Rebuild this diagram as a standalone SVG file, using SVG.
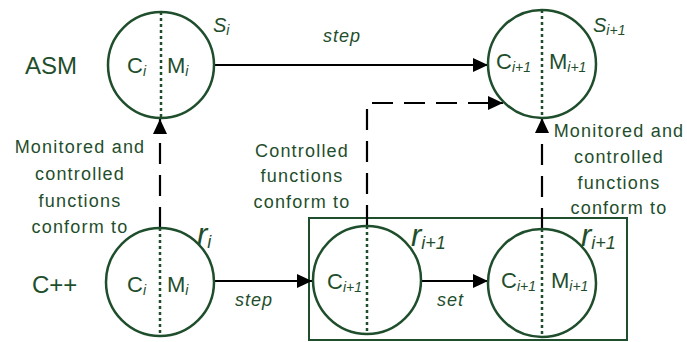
<svg xmlns="http://www.w3.org/2000/svg" width="687" height="342" viewBox="0 0 687 342">
<style>
.bg{fill:#ffffff}
.node{fill:none;stroke:#1f4e2c;stroke-width:2.5}
.div{stroke:#1f4e2c;stroke-width:2.5;stroke-dasharray:3 3;fill:none}
.box{fill:none;stroke:#1f4e2c;stroke-width:2}
.lbl{font-family:"Liberation Sans",Arial,sans-serif;fill:#1f4e2c}
.big{font-size:24px}
.cm{font-size:22px}
.sub{font-size:14px;font-style:italic}
.it{font-style:italic}
.rl{font-size:31px;font-style:italic}
.note{font-size:18px;letter-spacing:1.2px;text-anchor:middle}
.edge{fill:none;stroke:#000;stroke-width:2.2}
.dash{stroke-dasharray:21 11}
</style>
<defs>
<marker id="ah" markerUnits="userSpaceOnUse" markerWidth="16" markerHeight="14" refX="15" refY="7" orient="auto">
<path d="M0,0 L15,7 L0,14 z" fill="#000"/>
</marker>
</defs>
<rect class="bg" x="0" y="0" width="687" height="342"/>

<text class="lbl big" x="25" y="74">ASM</text>
<text class="lbl big" x="32" y="293">C++</text>

<g id="pipeline-box">
<rect class="box" x="309" y="218" width="318" height="122"/>
</g>

<g id="connectors">
<line class="edge" x1="214" y1="65" x2="488" y2="65" marker-end="url(#ah)"/>
<line class="edge" x1="214" y1="281" x2="312" y2="281" marker-end="url(#ah)"/>
<line class="edge" x1="422" y1="281" x2="488" y2="281" marker-end="url(#ah)"/>
<line class="edge dash" x1="160" y1="228" x2="160" y2="119" marker-end="url(#ah)"/>
<path class="edge dash" d="M367,226 V103 H503" marker-end="url(#ah)"/>
<line class="edge dash" x1="542" y1="229" x2="542" y2="118" marker-end="url(#ah)"/>
<text class="lbl it" x="323" y="42" font-size="18" letter-spacing="1">step</text>
<text class="lbl it" x="235" y="306" font-size="18" letter-spacing="1">step</text>
<text class="lbl it" x="437" y="306" font-size="18" letter-spacing="1">set</text>
<text class="lbl note" x="80" y="153">Monitored and</text>
<text class="lbl note" x="80" y="180">controlled</text>
<text class="lbl note" x="80" y="207">functions</text>
<text class="lbl note" x="80" y="233">conform to</text>
<text class="lbl note" x="302" y="157">Controlled</text>
<text class="lbl note" x="302" y="182">functions</text>
<text class="lbl note" x="302" y="208">conform to</text>
<text class="lbl note" x="619" y="137">Monitored and</text>
<text class="lbl note" x="619" y="163">controlled</text>
<text class="lbl note" x="619" y="189">functions</text>
<text class="lbl note" x="619" y="214">conform to</text>
</g>

<g id="asm-si">
<circle class="node" cx="161" cy="65" r="53"/>
<line class="div" x1="161" y1="12" x2="161" y2="118"/>
<text class="lbl cm" x="127" y="73">C<tspan class="sub" dy="3">i</tspan></text>
<text class="lbl cm" x="167" y="73">M<tspan class="sub" dy="3">i</tspan></text>
<text class="lbl it" x="213" y="32" font-size="20">S<tspan class="sub" dy="3">i</tspan></text>
</g>

<g id="asm-si1">
<circle class="node" cx="542" cy="64" r="54"/>
<line class="div" x1="542" y1="10" x2="542" y2="118"/>
<text class="lbl cm" x="496" y="69">C<tspan class="sub" dy="3">i+1</tspan></text>
<text class="lbl cm" x="549" y="69">M<tspan class="sub" dy="3">i+1</tspan></text>
<text class="lbl it" x="593" y="32" font-size="20">S<tspan class="sub" dy="3">i+1</tspan></text>
</g>

<g id="cpp-ri">
<circle class="node" cx="160" cy="282" r="54"/>
<line class="div" x1="160" y1="228" x2="160" y2="336"/>
<text class="lbl cm" x="127" y="292">C<tspan class="sub" dy="3">i</tspan></text>
<text class="lbl cm" x="167" y="292">M<tspan class="sub" dy="3">i</tspan></text>
<text class="lbl rl" x="197" y="245">r<tspan font-size="18" dy="3">i</tspan></text>
</g>

<g id="cpp-ri1-a">
<circle class="node" cx="367" cy="280" r="54"/>
<line class="div" x1="367" y1="226" x2="367" y2="334"/>
<text class="lbl cm" x="327" y="289">C<tspan class="sub" dy="3">i+1</tspan></text>
<text class="lbl rl" x="411" y="246">r<tspan font-size="18" dy="3">i+1</tspan></text>
</g>

<g id="cpp-ri1-b">
<circle class="node" cx="542" cy="283" r="54"/>
<line class="div" x1="542" y1="229" x2="542" y2="337"/>
<text class="lbl cm" x="501" y="288">C<tspan class="sub" dy="3">i+1</tspan></text>
<text class="lbl cm" x="551" y="288">M<tspan class="sub" dy="3">i+1</tspan></text>
<text class="lbl rl" x="581" y="246">r<tspan font-size="18" dy="3">i+1</tspan></text>
</g>
</svg>
